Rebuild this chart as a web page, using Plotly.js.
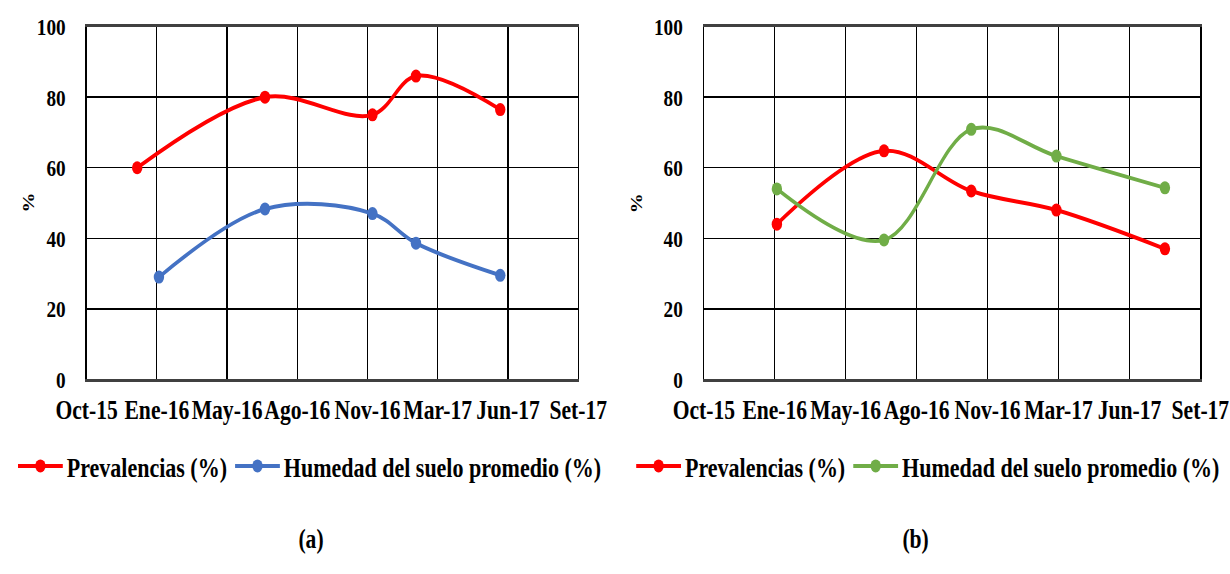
<!DOCTYPE html>
<html>
<head>
<meta charset="utf-8">
<script src="https://cdn.plot.ly/plotly-3.0.1.min.js"></script>
<style>
html,body{margin:0;padding:0;background:#fff;overflow:hidden;width:1230px;height:574px;}
#wrap{width:1230px;height:574px;overflow:hidden;position:relative;}
#chart{position:absolute;left:0;top:0;transform-origin:0 0;}
</style>
</head>
<body>
<div id="wrap"><div id="chart"></div></div>
<script>
// ---- data ----
const tickLabels = ['Oct-15','Ene-16','May-16','Ago-16','Nov-16','Mar-17','Jun-17','Set-17'];
const axisStart = '2015-10-20';
const tickStepDays = 100;

const prevA_dates = ['2015-12-31','2016-06-30','2016-11-30','2017-01-31','2017-05-31'];
const prevA = [60, 80, 75, 86, 76.5];
const humA_dates = ['2016-01-31','2016-06-30','2016-11-30','2017-01-31','2017-05-31'];
const humA = [29, 48.3, 47, 38.6, 29.5];

const prevB_dates = ['2016-01-31','2016-06-30','2016-10-31','2017-02-28','2017-07-31'];
const prevB = [44, 64.8, 53.4, 48, 37];
const humB_dates = ['2016-01-31','2016-06-30','2016-10-31','2017-02-28','2017-07-31'];
const humB = [54, 39.5, 70.9, 63.3, 54.3];

const seriesNames = ['Prevalencias (%)', 'Humedad del suelo promedio (%)'];

// ---- helpers ----
const start = Date.parse(axisStart + 'T00:00:00Z');
const tickVals = tickLabels.map((_, i) => new Date(start + i * tickStepDays * 864e5).toISOString().slice(0, 10));
const rangeX = [tickVals[0], tickVals[tickVals.length - 1]];

const FONT = 'Liberation Serif';
const RED = '#FF0000', BLUE = '#4472C4', GREEN = '#70AD47';

// The reference figure is horizontally compressed; draw wider and squeeze with CSS.
const SX = 0.8;
const W = 1230, H = 574;
const WU = W / SX;

function tr(x, y, name, color, xa, ya, leg) {
  return {
    x: x, y: y, name: name, type: 'scatter', mode: 'lines+markers',
    line: {color: color, width: 4, shape: 'spline', smoothing: 1},
    marker: {color: color, size: 13},
    xaxis: xa, yaxis: ya, legend: leg, cliponaxis: false
  };
}

const data = [
  tr(prevA_dates, prevA, seriesNames[0], RED, 'x', 'y', 'legend'),
  tr(humA_dates, humA, seriesNames[1], BLUE, 'x', 'y', 'legend'),
  tr(prevB_dates, prevB, seriesNames[0], RED, 'x2', 'y2', 'legend2'),
  tr(humB_dates, humB, seriesNames[1], GREEN, 'x2', 'y2', 'legend2')
];

const yDom = [1 - 379.3 / H, 1 - 26.7 / H];

function xaxis(dom) {
  return {
    type: 'date', domain: dom, range: rangeX, tickmode: 'array',
    tickvals: tickVals, ticktext: tickLabels, showgrid: true,
    gridcolor: '#000', gridwidth: 1.5, showline: true, linecolor: '#404040', linewidth: 2.5,
    mirror: true, ticks: '', ticklabelstandoff: 5, automargin: false,
    tickfont: {family: FONT, size: 27, color: '#000', weight: 700}, zeroline: false
  };
}
function yaxis(dom, anchor) {
  return {
    domain: dom, range: [0, 100], tickvals: [0, 20, 40, 60, 80, 100],
    showgrid: true, gridcolor: '#000', gridwidth: 1.5, showline: true,
    linecolor: '#000', linewidth: 1.5, mirror: true, ticks: '', anchor: anchor,
    ticklabelstandoff: 20, automargin: false, zeroline: false,
    tickfont: {family: FONT, size: 24, color: '#000', weight: 700}
  };
}

const legFont = {family: FONT, size: 27.5, color: '#000', weight: 700};

const layout = {
  width: WU, height: H, autosize: false,
  margin: {l: 0, r: 0, t: 0, b: 0},
  paper_bgcolor: '#fff', plot_bgcolor: '#fff',
  font: {family: FONT, color: '#000'},
  showlegend: true,
  xaxis: xaxis([86.6 / W, 578 / W]),
  yaxis: yaxis(yDom, 'x'),
  xaxis2: xaxis([703.6 / W, 1200 / W]),
  yaxis2: yaxis(yDom, 'x2'),
  legend: {orientation: 'h', x: 14 / W, y: 1 - 466 / H, xanchor: 'left', yanchor: 'middle',
           font: legFont, bgcolor: 'rgba(0,0,0,0)', itemwidth: 56},
  legend2: {orientation: 'h', x: 632 / W, y: 1 - 466 / H, xanchor: 'left', yanchor: 'middle',
            font: legFont, bgcolor: 'rgba(0,0,0,0)', itemwidth: 56},
  annotations: [
    {text: '%', x: 18 / W, y: 1 - 203 / H, xref: 'paper', yref: 'paper', showarrow: false,
     textangle: -90, font: {family: FONT, size: 20, color: '#000', weight: 700}},
    {text: '%', x: 636 / W, y: 1 - 203 / H, xref: 'paper', yref: 'paper', showarrow: false,
     textangle: -90, font: {family: FONT, size: 20, color: '#000', weight: 700}},
    {text: '(a)', x: 297 / W, y: 1 - 556 / H, xref: 'paper', yref: 'paper', showarrow: false,
     font: {family: FONT, size: 27, color: '#000', weight: 700}},
    {text: '(b)', x: 930 / W, y: 1 - 556 / H, xref: 'paper', yref: 'paper', showarrow: false,
     font: {family: FONT, size: 27, color: '#000', weight: 700}}
  ]
};

document.getElementById('chart').style.transform = 'scaleX(' + SX + ')';
Plotly.newPlot('chart', data, layout, {displayModeBar: false, staticPlot: true});
</script>
</body>
</html>
